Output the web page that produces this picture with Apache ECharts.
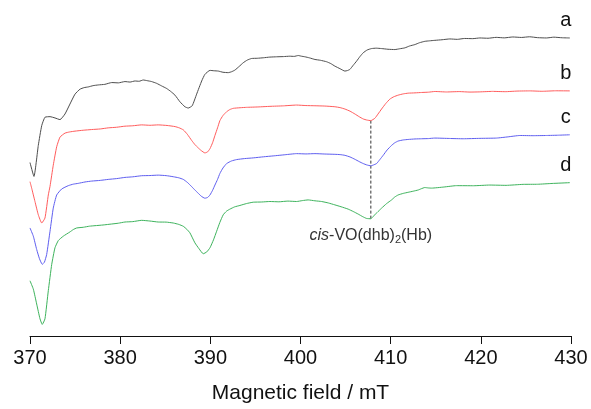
<!DOCTYPE html>
<html>
<head>
<meta charset="utf-8">
<script src="https://cdn.jsdelivr.net/npm/echarts@6/dist/echarts.min.js"></script>
<style>
  html, body { margin: 0; padding: 0; background: #fff; }
  #chart { width: 591px; height: 409px; }
</style>
</head>
<body>
<div id="chart"></div>
<script>
// EPR spectra, field in mT, intensity in arbitrary (offset) units
const fieldTicks = [370, 380, 390, 400, 410, 420, 430];
const traceNames = ['a', 'b', 'c', 'd'];
const traceColors = ['#4d4d4d', '#ff5c5c', '#5e5ef0', '#3db35c'];

const traceA = [
  [370.00,175.0],[370.44,161.0],[370.92,192.3],[371.30,212.3],[371.66,220.7],[372.22,221.3],
  [372.77,220.0],[373.33,218.3],[373.88,224.0],[374.43,234.0],[374.99,244.0],[375.54,249.0],
  [376.00,250.6],[376.46,251.3],[377.00,252.6],[377.57,253.3],[378.30,253.9],[379.06,255.7],
  [379.80,255.4],[380.53,256.7],[381.10,256.2],[381.64,257.3],[382.10,257.0],[382.56,258.3],
  [383.00,257.6],[383.49,256.7],[384.05,254.9],[384.60,252.3],[385.16,249.7],[385.60,246.8],
  [386.08,243.0],[386.63,236.3],[387.18,231.3],[387.55,230.0],[387.99,232.3],[388.48,244.0],
  [389.04,257.3],[389.40,264.0],[389.96,268.0],[390.40,267.6],[390.88,267.3],[391.40,266.1],
  [391.98,265.7],[392.35,266.6],[392.73,268.3],[393.20,272.0],[393.65,275.7],[394.10,278.4],
  [394.58,280.0],[395.20,280.2],[395.87,280.7],[396.60,281.4],[397.35,281.7],[398.10,281.9],
  [398.82,282.3],[399.30,282.1],[399.75,283.0],[400.10,282.3],[400.49,281.7],[401.00,280.6],
  [401.60,279.0],[402.20,278.2],[402.89,276.7],[403.35,274.9],[403.81,272.3],[404.40,269.6],
  [404.92,267.3],[405.20,267.8],[405.48,269.0],[405.85,273.2],[406.22,277.3],[406.60,282.0],
  [406.95,285.7],[407.40,288.6],[407.88,290.0],[408.40,290.4],[408.99,290.0],[409.70,289.3],
  [410.47,289.0],[411.00,289.8],[411.57,290.7],[412.10,292.6],[412.68,294.0],[413.20,295.9],
  [413.79,297.3],[414.30,297.8],[414.90,298.3],[415.70,298.9],[416.56,299.7],[417.40,299.3],
  [418.20,300.2],[419.10,300.0],[419.89,300.7],[420.80,300.4],[421.70,301.3],[422.60,300.8],
  [423.55,301.7],[424.50,301.2],[425.40,301.9],[426.30,301.0],[427.28,300.7],[428.10,301.5],
  [429.00,300.9],[429.87,300.7]
];

const traceB = [
  [370.00,155.7],[370.19,149.0],[370.55,135.7],[370.92,122.3],[371.30,114.0],[371.66,119.0],
  [372.03,142.3],[372.22,151.0],[372.58,172.3],[372.96,191.0],[373.33,200.7],[373.88,204.7],
  [374.40,205.9],[374.99,206.7],[375.90,207.6],[376.84,208.3],[377.80,208.9],[378.68,210.0],
  [379.60,210.6],[380.53,211.7],[381.40,212.1],[382.38,213.0],[383.30,212.6],[384.22,213.0],
  [385.20,212.4],[386.08,211.3],[386.55,210.0],[387.00,208.0],[387.45,203.5],[387.93,197.3],
  [388.30,193.0],[388.63,190.0],[389.00,187.0],[389.40,184.7],[389.70,185.8],[389.96,189.0],
  [390.25,195.0],[390.51,202.3],[390.80,210.0],[391.06,217.3],[391.40,222.4],[391.81,226.3],
  [392.15,228.4],[392.54,229.7],[393.30,230.3],[394.02,230.7],[395.30,231.1],[396.61,231.7],
  [398.10,232.2],[399.57,233.0],[400.60,232.5],[401.60,232.3],[402.70,232.0],[403.81,231.3],
  [404.40,230.4],[404.92,229.0],[405.50,226.8],[406.03,224.0],[406.50,221.3],[406.95,219.0],
  [407.35,217.9],[407.80,217.3],[408.25,219.7],[408.60,224.0],[408.99,229.0],[409.45,234.5],
  [409.91,239.0],[410.35,241.4],[410.83,243.0],[411.40,244.3],[411.94,245.0],[412.70,245.3],
  [413.43,245.7],[414.20,246.0],[414.90,246.7],[416.20,246.2],[417.60,246.6],[418.80,246.1],
  [419.89,246.3],[421.30,246.8],[422.70,246.5],[424.00,247.1],[425.43,247.3],[426.80,246.9],
  [428.30,247.4],[429.87,247.3]
];

const traceC = [
  [370.00,109.0],[370.37,100.7],[370.74,87.3],[371.05,78.0],[371.36,72.3],[371.60,74.5],
  [371.85,82.3],[372.22,105.7],[372.58,129.0],[372.96,142.3],[373.51,148.3],[374.25,151.7],
  [374.80,153.2],[375.35,154.0],[376.10,155.4],[376.84,156.3],[377.80,157.0],[378.68,158.0],
  [379.60,158.8],[380.53,160.0],[381.40,160.6],[382.38,161.7],[383.30,161.9],[384.22,162.3],
  [385.10,161.8],[385.89,160.7],[386.50,159.6],[387.00,158.0],[387.45,155.0],[387.93,150.7],
  [388.30,147.2],[388.66,144.0],[389.00,141.0],[389.40,139.0],[389.70,139.8],[389.96,142.3],
  [390.25,147.0],[390.51,152.3],[390.80,158.0],[391.06,164.0],[391.40,169.5],[391.81,174.0],
  [392.35,176.6],[392.92,178.0],[393.80,179.0],[394.76,179.7],[395.90,180.8],[396.97,181.7],
  [398.30,182.9],[399.57,184.0],[400.60,183.7],[401.60,184.0],[402.70,183.6],[403.81,183.3],
  [404.40,183.0],[404.92,182.3],[405.50,180.6],[406.03,178.3],[406.50,176.0],[406.95,174.0],
  [407.35,172.6],[407.80,171.7],[408.10,172.6],[408.44,174.0],[408.80,178.0],[409.17,182.3],
  [409.60,187.6],[410.10,192.3],[410.45,194.9],[410.83,196.7],[411.40,197.8],[411.94,198.3],
  [412.70,198.8],[413.43,199.0],[414.20,199.2],[414.90,199.7],[416.50,199.3],[418.04,199.0],
  [419.90,199.4],[421.74,199.7],[423.00,200.9],[424.32,202.3],[425.80,202.1],[427.28,202.3],
  [428.60,202.6],[429.87,203.0]
];

const traceD = [
  [370.00,55.7],[370.37,47.3],[370.74,32.3],[371.11,17.3],[371.36,11.7],[371.66,17.3],
  [372.03,45.7],[372.41,72.3],[372.77,89.0],[373.14,96.3],[373.69,100.7],[374.43,105.0],
  [374.80,107.4],[375.18,109.0],[375.91,109.7],[376.60,110.8],[377.21,111.3],[378.10,112.0],
  [379.06,113.0],[379.80,113.8],[380.53,115.0],[381.40,115.4],[382.38,116.7],[383.30,116.0],
  [384.22,115.0],[385.10,114.9],[385.89,114.0],[386.50,112.6],[387.00,110.7],[387.40,107.6],
  [387.74,104.0],[388.29,94.0],[388.75,88.0],[389.21,83.0],[389.60,84.8],[389.96,89.0],
  [390.35,97.0],[390.70,105.7],[391.05,114.5],[391.43,122.3],[391.80,126.0],[392.17,128.0],
  [392.70,130.3],[393.28,131.7],[394.00,133.6],[394.76,135.0],[395.70,135.2],[396.61,135.7],
  [397.60,135.4],[398.60,136.1],[399.57,135.7],[400.20,136.6],[400.85,137.3],[401.60,136.4],
  [402.34,135.7],[403.10,134.2],[403.81,132.3],[404.50,130.4],[405.29,128.0],[405.85,125.6],
  [406.40,123.0],[406.90,120.4],[407.33,118.6],[407.80,118.3],[408.06,120.7],[408.50,124.6],
  [408.99,129.0],[409.55,133.6],[410.10,137.3],[410.45,140.2],[410.83,142.3],[411.40,143.9],
  [411.94,145.0],[412.50,146.1],[413.05,147.3],[413.40,148.6],[413.79,149.8],[414.15,149.4],
  [414.53,149.2],[415.90,150.3],[417.30,151.7],[419.20,151.6],[421.00,152.3],[422.80,152.0],
  [424.69,153.0],[426.30,153.1],[427.90,153.9],[429.87,154.7]
];

// reference marker shared by the b, c, d spectra
const markerField = 407.8;
const markerTop = 217.3;     // minimum of trace b
const markerBottom = 118.3;  // minimum of trace d

const traces = [traceA, traceB, traceC, traceD];

const font = '"Liberation Sans", Arial, sans-serif';

const series = traces.map((pts, i) => {
  const last = pts[pts.length - 1];
  return {
    type: 'line',
    name: traceNames[i],
    data: pts,
    showSymbol: false,
    symbol: 'none',
    smooth: 0.15,
    lineStyle: { color: traceColors[i], width: 1 },
    itemStyle: { color: traceColors[i] },
    z: 3,
    silent: true,
    animation: false,
    // trace letter above the right-hand end of each spectrum
    markPoint: {
      symbol: 'rect',
      symbolSize: 1,
      itemStyle: { color: 'rgba(0,0,0,0)' },
      data: [{
        coord: last,
        label: {
          show: true,
          formatter: traceNames[i],
          position: 'top',
          distance: 7,
          offset: [-4, 0],
          fontSize: 20,
          fontFamily: font,
          color: '#111'
        }
      }]
    }
  };
});

series.push({
  type: 'line',
  name: 'marker',
  data: [[markerField, markerTop], [markerField, markerBottom]],
  symbol: 'none',
  lineStyle: { color: '#333', width: 1, type: [3, 2] },
  z: 2,
  silent: true,
  animation: false,
  markPoint: {
    symbol: 'rect',
    symbolSize: 1,
    itemStyle: { color: 'rgba(0,0,0,0)' },
    data: [{
      coord: [markerField, markerBottom],
      label: {
        show: true,
        position: 'bottom',
        distance: 6,
        fontFamily: font,
        fontSize: 16,
        color: '#333',
        formatter: '{i|cis}{n|-VO(dhb)}{s|2}{n|(Hb)}',
        rich: {
          i: { fontStyle: 'italic', fontSize: 16, fontFamily: font, color: '#333' },
          n: { fontSize: 16, fontFamily: font, color: '#333' },
          s: { fontSize: 11, fontFamily: font, color: '#333', padding: [9, 0, 0, 0] }
        }
      }
    }]
  }
});

const chart = echarts.init(document.getElementById('chart'), null, { renderer: 'canvas' });
chart.setOption({
  animation: false,
  backgroundColor: '#fff',
  grid: { left: 30, right: 20, top: 0, bottom: 70, containLabel: false },
  xAxis: {
    type: 'value',
    min: fieldTicks[0],
    max: fieldTicks[fieldTicks.length - 1],
    interval: fieldTicks[1] - fieldTicks[0],
    name: 'Magnetic field / mT',
    nameLocation: 'middle',
    nameGap: 47,
    nameTextStyle: { fontSize: 21, fontFamily: font, color: '#111' },
    axisLine: { show: true, onZero: false, lineStyle: { color: '#111', width: 1 } },
    axisTick: { show: true, inside: false, length: 8, lineStyle: { color: '#111', width: 1 } },
    axisLabel: { fontSize: 20, fontFamily: font, color: '#111', margin: 12 },
    splitLine: { show: false }
  },
  yAxis: {
    type: 'value',
    min: 0,
    max: 339,
    show: false
  },
  series: series
});
</script>
</body>
</html>
